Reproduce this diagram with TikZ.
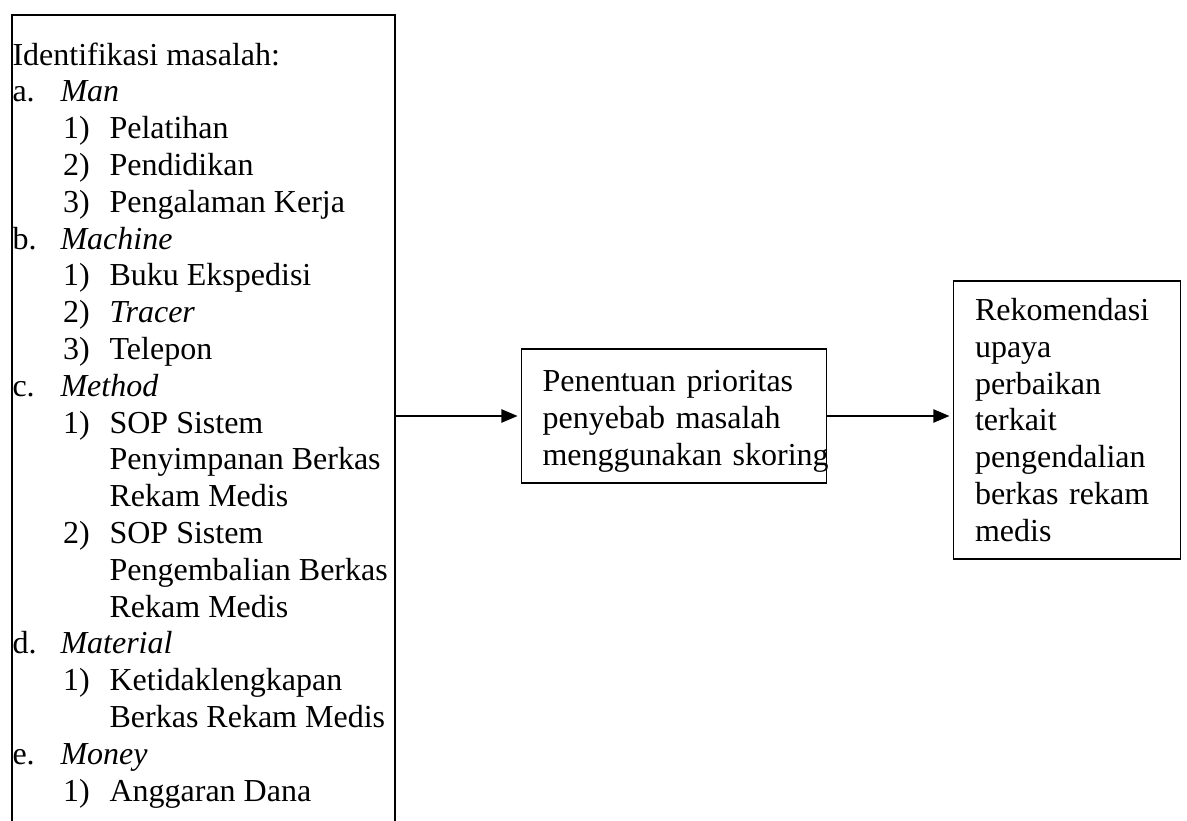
\documentclass[tikz,border=0pt]{standalone}
\usepackage{fontspec}
\setmainfont{Liberation Serif}
\usetikzlibrary{arrows.meta,positioning}
\tikzset{teks/.style={font=\fontsize{12pt}{13.8pt}\selectfont},
	kotak/.style={draw,line width=0.6pt,align=left,inner ysep=0pt},
	panah/.style={-{Triangle[length=6pt,width=5pt]},line width=0.5pt,shorten >=1.2pt}}
\newcommand{\butir}[2]{\makebox[18pt][l]{#1}\textit{#2}}
\newcommand{\subbutir}[2]{\hspace*{19pt}\makebox[17.4pt][l]{#1}#2}
\newcommand{\lanjut}[1]{\hspace*{36.4pt}#1}

\begin{document}
\begin{tikzpicture}
	[x=0.375pt,y=-0.375pt,every node/.style={teks}]
	\useasboundingbox (0,0) rectangle (1187,821);
	\clip (0,0) rectangle (1187,821);

	% kotak identifikasi (bagian bawah terpotong)
	\node [draw,line width=0.6pt,anchor=north west,inner sep=0pt,
		minimum width=143.8pt,minimum height=310pt] (idbox) at (11,14) {};
	\node [anchor=north west,inner sep=0pt,align=left] (idteks) at (12,42)
	{Identifikasi masalah:\\
		\butir{a.}{Man}\\
		\subbutir{1)}{Pelatihan}\\
		\subbutir{2)}{Pendidikan}\\
		\subbutir{3)}{Pengalaman Kerja}\\
		\butir{b.}{Machine}\\
		\subbutir{1)}{Buku Ekspedisi}\\
		\subbutir{2)}{\textit{Tracer}}\\
		\subbutir{3)}{Telepon}\\
		\butir{c.}{Method}\\
		\subbutir{1)}{SOP Sistem}\\
		\lanjut{Penyimpanan Berkas}\\
		\lanjut{Rekam Medis}\\
		\subbutir{2)}{SOP Sistem}\\
		\lanjut{Pengembalian Berkas}\\
		\lanjut{Rekam Medis}\\
		\butir{d.}{Material}\\
		\subbutir{1)}{Ketidaklengkapan}\\
		\lanjut{Berkas Rekam Medis}\\
		\butir{e.}{Money}\\
		\subbutir{1)}{Anggaran Dana}};

	\node [kotak,text width=98.6pt,inner xsep=7.9pt,minimum height=50.25pt]
	(prioritas) at (674,416)
	{\rule{0pt}{12pt}Penentuan prioritas\\penyebab masalah\\\mbox{menggunakan skoring}};

	\node [kotak,text width=69pt,inner xsep=8.1pt,minimum height=104.25pt]
	(rekomendasi) at (1067,420)
	{Rekomendasi\\upaya\\perbaikan\\terkait\\pengendalian\\\mbox{berkas rekam}\\medis};

	\draw [panah] (idbox.east |- prioritas.west) -- (prioritas.west);
	\draw [panah] (prioritas.east) -- (prioritas.east -| rekomendasi.west);
\end{tikzpicture}
\end{document}
